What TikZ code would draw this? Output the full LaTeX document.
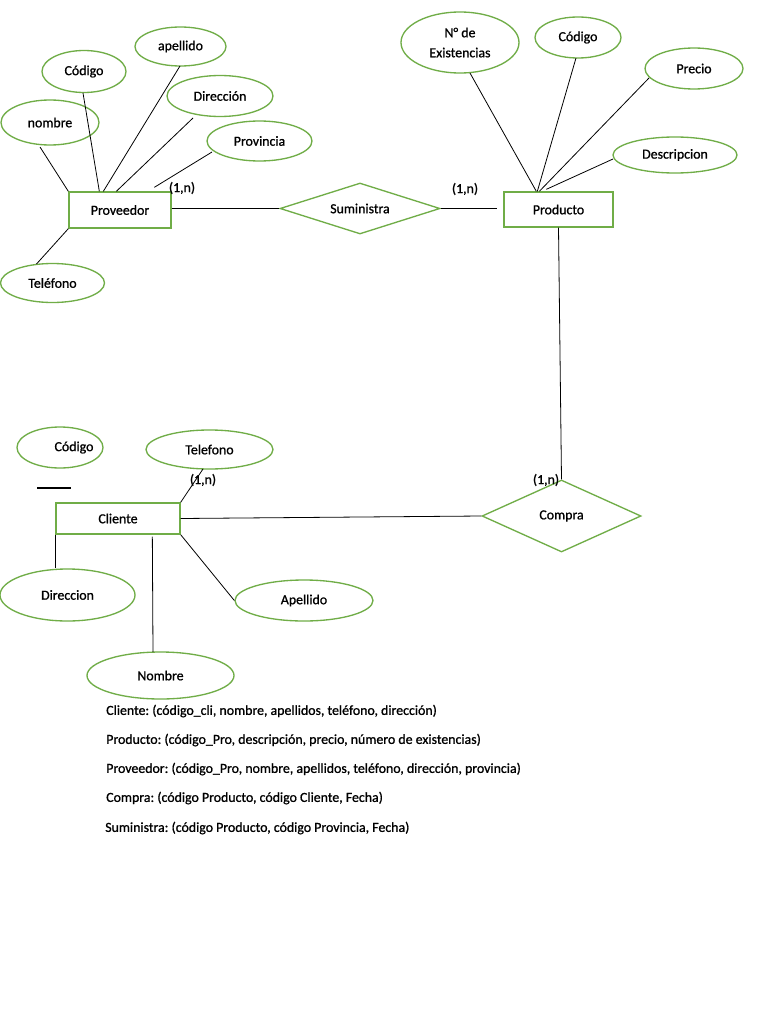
\documentclass[tikz,border=0pt]{standalone}
\usepackage{fontspec}
\setmainfont{Carlito}[FakeBold=0.9]
\usetikzlibrary{shapes.geometric,calc}
\definecolor{eg}{RGB}{112,173,71}
\frenchspacing
\begin{document}
\begin{tikzpicture}[x=0.75pt,y=-0.75pt,
  every node/.style={font=\fontsize{10.4}{12.5}\selectfont, inner sep=0pt},
  attr/.style 2 args={ellipse, draw=eg, line width=1pt, minimum width=#1*0.75pt, minimum height=#2*0.75pt},
  ent/.style 2 args={rectangle, draw=eg, line width=1pt, minimum width=#1*0.75pt, minimum height=#2*0.75pt},
  rel/.style n args={3}{diamond, draw=eg, line width=1pt, shape aspect=#3, minimum width=#1*0.75pt, minimum height=#2*0.75pt},
  conn/.style={draw=black, line width=0.6pt},
  card/.style={},
  schema/.style={anchor=west}
]
\useasboundingbox (0,0) rectangle (768,1024);
\fill[white] (0,0) rectangle (768,1024);

% ---------------- Proveedor ----------------
\node[ent={102}{36}] (prov) at (120,210) {Proveedor};
\node[attr={91}{39}] (apell1) at (180.5,46.5) {apellido};
\node[attr={84}{42}] (cod1) at (84,71.5) {Código};
\node[attr={106}{41}] (dir1) at (220,96) {Dirección};
\node[attr={98}{45}] (nom1) at (50,122.5) {nombre};
\node[attr={105}{40}] (prov1) at (259.5,141) {Provincia};
\node[attr={104}{39}] (tel1) at (52.5,283) {Teléfono};

\draw[conn] ($(nom1.center)+(-10,24.5)$) -- (prov.north west);
\draw[conn] ($(cod1.center)+(-1,21.5)$) -- ($(prov.north west)+(31,0)$);
\draw[conn] ($(apell1.center)+(-0.5,19.5)$) -- ($(prov.north west)+(35,0)$);
\draw[conn] ($(dir1.center)+(-27,22)$) -- ($(prov.north west)+(48,0)$);
\draw[conn] ($(prov1.center)+(-47.5,11)$) -- ($(prov.north west)+(86,-4)$);
\draw[conn] ($(tel1.center)+(-16,-19)$) -- (prov.south west);

% ---------------- Suministra ----------------
\node[rel={160}{51}{3.14}] (sum) at (360,208.5) {Suministra};
\node[ent={109}{35}] (prod) at (558.5,209.5) {Producto};
\draw[conn] (prov.east |- sum.west) -- (sum.west);
\draw[conn] (sum.east) -- ($(prod.west |- sum.east)+(-6,0)$);
\node[card] (c1) at (182,188) {(1,n)};
\node[card] (c2) at (465,189) {(1,n)};

% ---------------- Producto ----------------
\node[attr={118}{61}, align=center, font=\fontsize{10.4}{15}\selectfont] (nex) at (460,42.5) {N° de\\Existencias};
\node[attr={86}{41}] (cod2) at (578,37.5) {Código};
\node[attr={98}{41}] (pre) at (694,68.5) {Precio};
\node[attr={124}{36}] (desc) at (675,155) {Descripcion};

\draw[conn] ($(nex.center)+(10,30.5)$) -- ($(prod.north west)+(33,0)$);
\draw[conn] ($(cod2.center)+(-2,20.5)$) -- ($(prod.north west)+(34,0)$);
\draw[conn] ($(pre.center)+(-45,9.5)$) -- ($(prod.north west)+(36,0)$);
\draw[conn] ($(desc.center)+(-62,4)$) -- ($(prod.north west)+(43,-2)$);

% ---------------- Compra ----------------
\node[rel={159}{72}{2.21}] (comp) at (561.5,516) {Compra};
\draw[conn] (prod.south) -- (comp.north);
\node[card] (c3) at (546,480) {(1,n)};

% ---------------- Cliente ----------------
\node[ent={124}{31}] (cli) at (118,518.5) {Cliente};
\node[attr={86}{41}] (cod3) at (60,447.5) {\hspace*{21pt}\makebox[0pt]{Código}};
\node[attr={127}{39}] (tel2) at (209.5,449.5) {Telefono};
\node[attr={135}{52}] (dir2) at (67.5,595) {Direccion};
\node[attr={138}{41}] (ape2) at (304,600.5) {Apellido};
\node[attr={147}{47}] (nom2) at (160.5,675.5) {Nombre};
\node[card] (c4) at (203,480) {(1,n)};

\coordinate (ulA) at (37,488);
\coordinate (ulB) at (71,488);
\draw[black, line width=0.8pt] (ulA) -- (ulB);

\draw[conn] ($(tel2.center)+(-6.5,19.5)$) -- (cli.north east);
\draw[conn] (cli.south west) -- (cli.south west |- dir2.north);
\draw[conn] ($(cli.south west)+(97,2)$) -- ($(nom2.center)+(-7.5,-23.5)$);
\draw[conn] (cli.south east) -- (ape2.west);
\draw[conn] (cli.east) -- (comp.west);

% ---------------- Schema text ----------------
\node[schema] (t1) at (106,711) {Cliente: (código\_cli, nombre, apellidos, teléfono, dirección)};
\node[schema] (t2) at (106,740) {Producto: (código\_Pro, descripción, precio, número de existencias)};
\node[schema] (t3) at (106,769) {Proveedor: (código\_Pro, nombre, apellidos, teléfono, dirección, provincia)};
\node[schema] (t4) at (106,798) {Compra: (código Producto, código Cliente, Fecha)};
\node[schema] (t5) at (105,828) {Suministra: (código Producto, código Provincia, Fecha)};
\end{tikzpicture}
\end{document}
